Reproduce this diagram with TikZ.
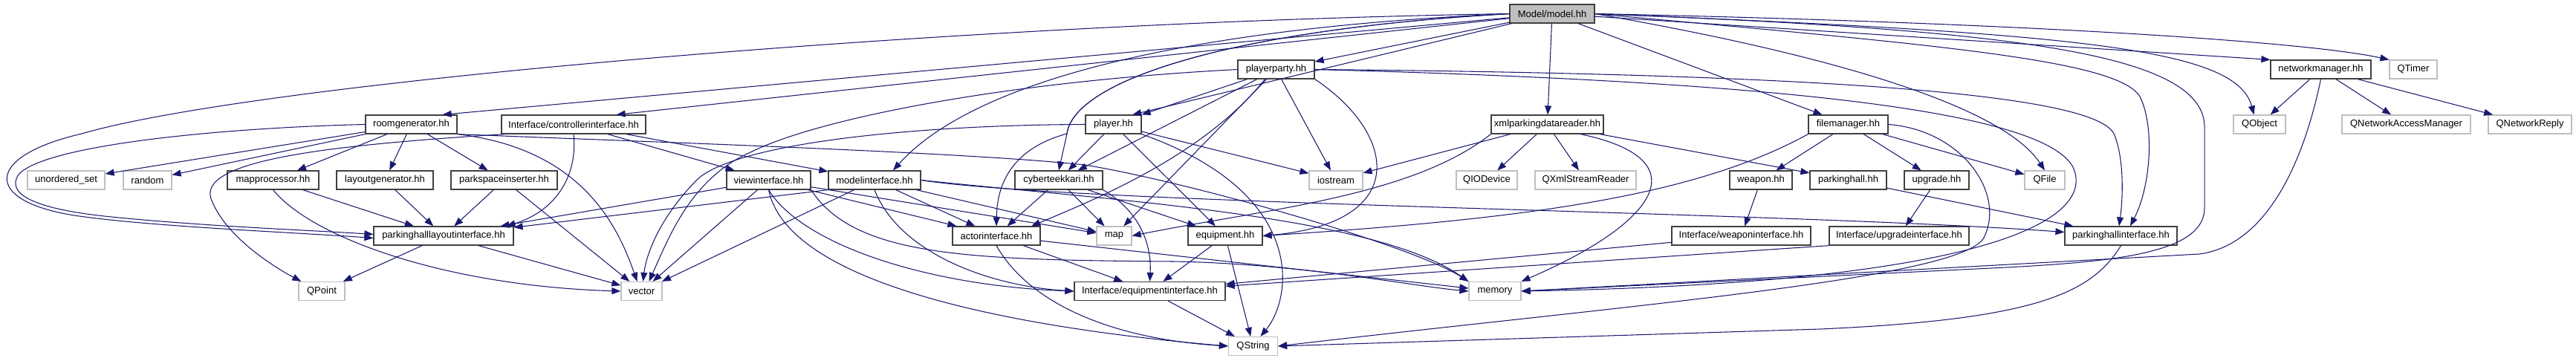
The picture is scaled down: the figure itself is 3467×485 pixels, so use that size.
\documentclass[tikz,border=0pt]{standalone}
\usepackage{fontspec}
\setmainfont{Liberation Sans}
\usetikzlibrary{arrows.meta}
\definecolor{edgeblue}{HTML}{191970}
\definecolor{extgray}{HTML}{BFBFBF}

\begin{document}
\begin{tikzpicture}[x=0.02cm,y=-0.02cm,
  hdr/.style={draw=black!75, line width=0.7pt, fill=white, minimum height=0.5cm,
    inner sep=0pt, font=\fontsize{7.4}{8.5}\selectfont},
  syshdr/.style={hdr, draw=extgray},
  roothdr/.style={hdr, fill=extgray},
  wd/.style={minimum width=#1*0.02cm},
  dep/.style={draw=edgeblue, line width=0.6pt, -{Triangle[length=0.24cm,width=0.18cm]}}]
\useasboundingbox (0,0) rectangle (3467,485);

\node[roothdr, wd=114] (model) at (2089,18.5) {Model/model.hh};

\node[hdr, wd=103] (pparty) at (1717.5,93.5) {playerparty.hh};
\node[hdr, wd=135] (netmgr) at (3123.5,93.5) {networkmanager.hh};
\node[syshdr, wd=64] (qtimer) at (3248,93.5) {QTimer};

\node[hdr, wd=123] (roomgen) at (553.5,167.5) {roomgenerator.hh};
\node[hdr, wd=194] (ctrlif) at (772,167.5) {Interface/controllerinterface.hh};
\node[hdr, wd=75] (player) at (1498.5,167.5) {player.hh};
\node[hdr, wd=151] (xmlrd) at (2082.5,167.5) {xmlparkingdatareader.hh};
\node[hdr, wd=107] (filemgr) at (2487.5,167.5) {filemanager.hh};
\node[syshdr, wd=70] (qobject) at (3041,167.5) {QObject};
\node[syshdr, wd=173] (qnam) at (3238.5,167.5) {QNetworkAccessManager};
\node[syshdr, wd=112] (qnreply) at (3405,167.5) {QNetworkReply};

\node[syshdr, wd=104] (uset) at (89,242.5) {unordered\_set};
\node[syshdr, wd=65] (random) at (198.5,242.5) {random};
\node[hdr, wd=123] (mapproc) at (367.5,242.5) {mapprocessor.hh};
\node[hdr, wd=130] (layoutgen) at (518,242.5) {layoutgenerator.hh};
\node[hdr, wd=143] (psinsert) at (678.5,242.5) {parkspaceinserter.hh};
\node[hdr, wd=113] (viewif) at (1034.5,242.5) {viewinterface.hh};
\node[hdr, wd=124] (modelif) at (1177,242.5) {modelinterface.hh};
\node[hdr, wd=118] (cyber) at (1425,242.5) {cyberteekkari.hh};
\node[syshdr, wd=72] (iostream) at (1798,242.5) {iostream};
\node[syshdr, wd=82] (qiodev) at (2001,242.5) {QIODevice};
\node[syshdr, wd=136] (qxml) at (2134,242.5) {QXmlStreamReader};
\node[hdr, wd=84] (weapon) at (2370,242.5) {weapon.hh};
\node[hdr, wd=103] (phall) at (2487.5,242.5) {parkinghall.hh};
\node[hdr, wd=87] (upgrade) at (2606.5,242.5) {upgrade.hh};
\node[syshdr, wd=54] (qfile) at (2752,242.5) {QFile};

\node[hdr, wd=188] (phlif) at (597,317.5) {parkinghalllayoutinterface.hh};
\node[hdr, wd=118] (actorif) at (1341,317.5) {actorinterface.hh};
\node[syshdr, wd=47] (map) at (1499.5,317.5) {map};
\node[hdr, wd=100] (equip) at (1649,317.5) {equipment.hh};
\node[hdr, wd=187] (weaponif) at (2343.5,317.5) {Interface/weaponinterface.hh};
\node[hdr, wd=188] (upgradeif) at (2556,317.5) {Interface/upgradeinterface.hh};
\node[hdr, wd=151] (phif) at (2854.5,317.5) {parkinghallinterface.hh};

\node[syshdr, wd=62] (qpoint) at (433,392) {QPoint};
\node[syshdr, wd=55] (vector) at (863.5,392) {vector};
\node[hdr, wd=203] (equipif) at (1547.5,392) {Interface/equipmentinterface.hh};
\node[syshdr, wd=70] (memory) at (2012,392) {memory};

\node[syshdr, wd=66] (qstring) at (1686.5,466) {QString};

% straight includes
\foreach \a/\b in {model/pparty, model/xmlrd, model/filemgr, model/netmgr.north west,
  pparty/player.north east, pparty/cyber, pparty/map, pparty/iostream,
  netmgr/qobject, netmgr/qnam, netmgr/qnreply,
  roomgen/uset, roomgen/random, roomgen/mapproc, roomgen/layoutgen, roomgen/psinsert,
  ctrlif/viewif, ctrlif/modelif, player/cyber, player/equip, player/iostream,
  xmlrd/iostream, xmlrd/qiodev, xmlrd/qxml, xmlrd/phall,
  filemgr/weapon, filemgr/upgrade, filemgr/qfile,
  mapproc/phlif, layoutgen/phlif, psinsert/phlif, psinsert/vector,
  viewif/phlif, viewif/vector, viewif/actorif, viewif/map,
  modelif.south west/phlif, modelif/vector, modelif/actorif, modelif/map,
  cyber/actorif, cyber/equip, cyber/map, actorif/equipif, actorif/memory,
  equip/equipif, equip/qstring, equipif/qstring,
  weapon/weaponif, upgrade/upgradeif, weaponif/equipif, upgradeif.south west/equipif,
  phall/phif, phlif/qpoint, phlif/vector}
  \draw[dep] (\a) -- (\b);

\draw[dep] (model) -- ([xshift=-0.4cm]roomgen.north east);
\draw[dep] (model) -- ([xshift=-0.8cm]ctrlif.north east);
\draw[dep] (model) -- ([xshift=-0.25cm]player.north east);

% routed includes
\draw[dep] (model.west) .. controls (1300,30) and (350,110) .. (110,180)
  .. controls (-20,210) and (-25,270) .. (100,290)
  .. controls (200,305) and (400,313) .. ([yshift=-0.06cm]phlif.west);
\draw[dep] (roomgen.west) .. controls (300,172) and (60,195) .. (25,235)
  .. controls (5,265) and (60,283) .. (150,292)
  .. controls (280,305) and (420,310) .. ([yshift=0.04cm]phlif.west);
\draw[dep] ([xshift=0.1cm]ctrlif.south west) .. controls (450,195) and (260,215) .. (285,270)
  .. controls (305,320) and (370,360) .. ([xshift=0.08cm]qpoint.north west);
\draw[dep] (ctrlif.south) .. controls (778,240) and (745,285) .. ([xshift=-0.2cm]phlif.north east);
\draw[dep] (roomgen.south east) .. controls (780,200) and (830,300) .. ([xshift=-0.12cm]vector.north);
\draw[dep] (mapproc.south) .. controls (420,320) and (600,385) .. (vector.west);
\draw[dep] (roomgen.south east) .. controls (900,192) and (1300,205) .. (1460,222)
  .. controls (1600,245) and (1900,330) .. (memory.north west);

\draw[dep] (model.west) .. controls (1650,40) and (1445,110) .. (1436,180)
  .. controls (1380,195) and (1342,230) .. (actorif.north);
\draw[dep] (model.west) .. controls (1650,40) and (1445,110) .. (1436,180) -- (cyber.north);
\draw[dep] (model.west) .. controls (1550,40) and (1300,120) .. ([xshift=0.5cm]modelif.north);
\draw[dep] (player.west) .. controls (1250,168) and (1000,190) .. (940,240)
  .. controls (890,290) and (870,340) .. ([xshift=0.04cm]vector.north);
\draw[dep] (pparty.west) .. controls (1350,110) and (1100,160) .. (1010,205)
  .. controls (930,240) and (900,320) .. ([xshift=0.2cm]vector.north);
\draw[dep] ([xshift=-0.3cm]pparty.south) .. controls (1620,210) and (1470,270) .. ([xshift=-0.25cm]actorif.north east);
\draw[dep] (pparty.south east) .. controls (1880,180) and (1900,300) .. (equip.east);
\draw[dep] (player.south east) .. controls (1760,260) and (1740,400) .. ([xshift=0.2cm]qstring.north);
\draw[dep] (cyber.south east) .. controls (1535,285) and (1550,330) .. (equipif.north);

\draw[dep] (viewif.south) .. controls (1080,330) and (1250,385) .. (equipif.west);
\draw[dep] (modelif.south) .. controls (1210,340) and (1330,385) .. (equipif.west);
\draw[dep] (viewif.south) .. controls (1060,380) and (1350,440) .. (qstring.west);
\draw[dep] (actorif.south) .. controls (1380,400) and (1480,455) .. (qstring.west);
\draw[dep] (viewif.south east) .. controls (1150,345) and (1300,350) .. (1580,352)
  .. controls (1750,355) and (1900,385) .. (memory.west);
\draw[dep] (modelif.east) .. controls (1500,270) and (1850,290) .. (memory.north west);
\draw[dep] (modelif.east) .. controls (1450,275) and (2400,285) .. ([yshift=0.1cm]phif.west);

\draw[dep] (xmlrd.south west) .. controls (1900,265) and (1700,282) .. (map.east);
\draw[dep] ([xshift=0.9cm]xmlrd.south) .. controls (2290,215) and (2230,300) .. (memory.north east);
\draw[dep] (filemgr.south west) .. controls (2280,265) and (2050,295) .. (equip.east);
\draw[dep] (filemgr.east) .. controls (2640,175) and (2700,260) .. (2670,320)
  .. controls (2640,375) and (2200,410) .. (qstring.east);
\draw[dep] (phif.south) .. controls (2815,395) and (2740,430) .. (2450,443) -- (qstring.east);

\draw[dep] (model.east) .. controls (2500,80) and (2700,150) .. (qfile.north);
\draw[dep] (model.east) .. controls (2700,30) and (3100,55) .. (qtimer.north west);
\draw[dep] (model.east) .. controls (2800,45) and (3010,65) .. ([xshift=-0.15cm]qobject.north);
\draw[dep] (model.east) .. controls (2600,60) and (2850,80) .. (2880,130)
  .. controls (2900,170) and (2895,250) .. ([xshift=0.25cm]phif.north);
\draw[dep] (pparty.east) .. controls (2500,100) and (2820,130) .. (2845,180)
  .. controls (2858,210) and (2858,260) .. ([xshift=-0.05cm]phif.north);
\draw[dep] (pparty.east) .. controls (2400,110) and (2750,150) .. (2790,225)
  .. controls (2820,290) and (2700,380) .. (memory.east);
\draw[dep] (model.east) .. controls (2700,40) and (2965,70) .. (2967,170) -- (2967,280)
  .. controls (2967,340) and (2850,352) .. (2700,360) -- (memory.east);
\draw[dep] (netmgr.south) .. controls (3100,220) and (3050,330) .. (2960,342) -- (memory.east);
\end{tikzpicture}
\end{document}
